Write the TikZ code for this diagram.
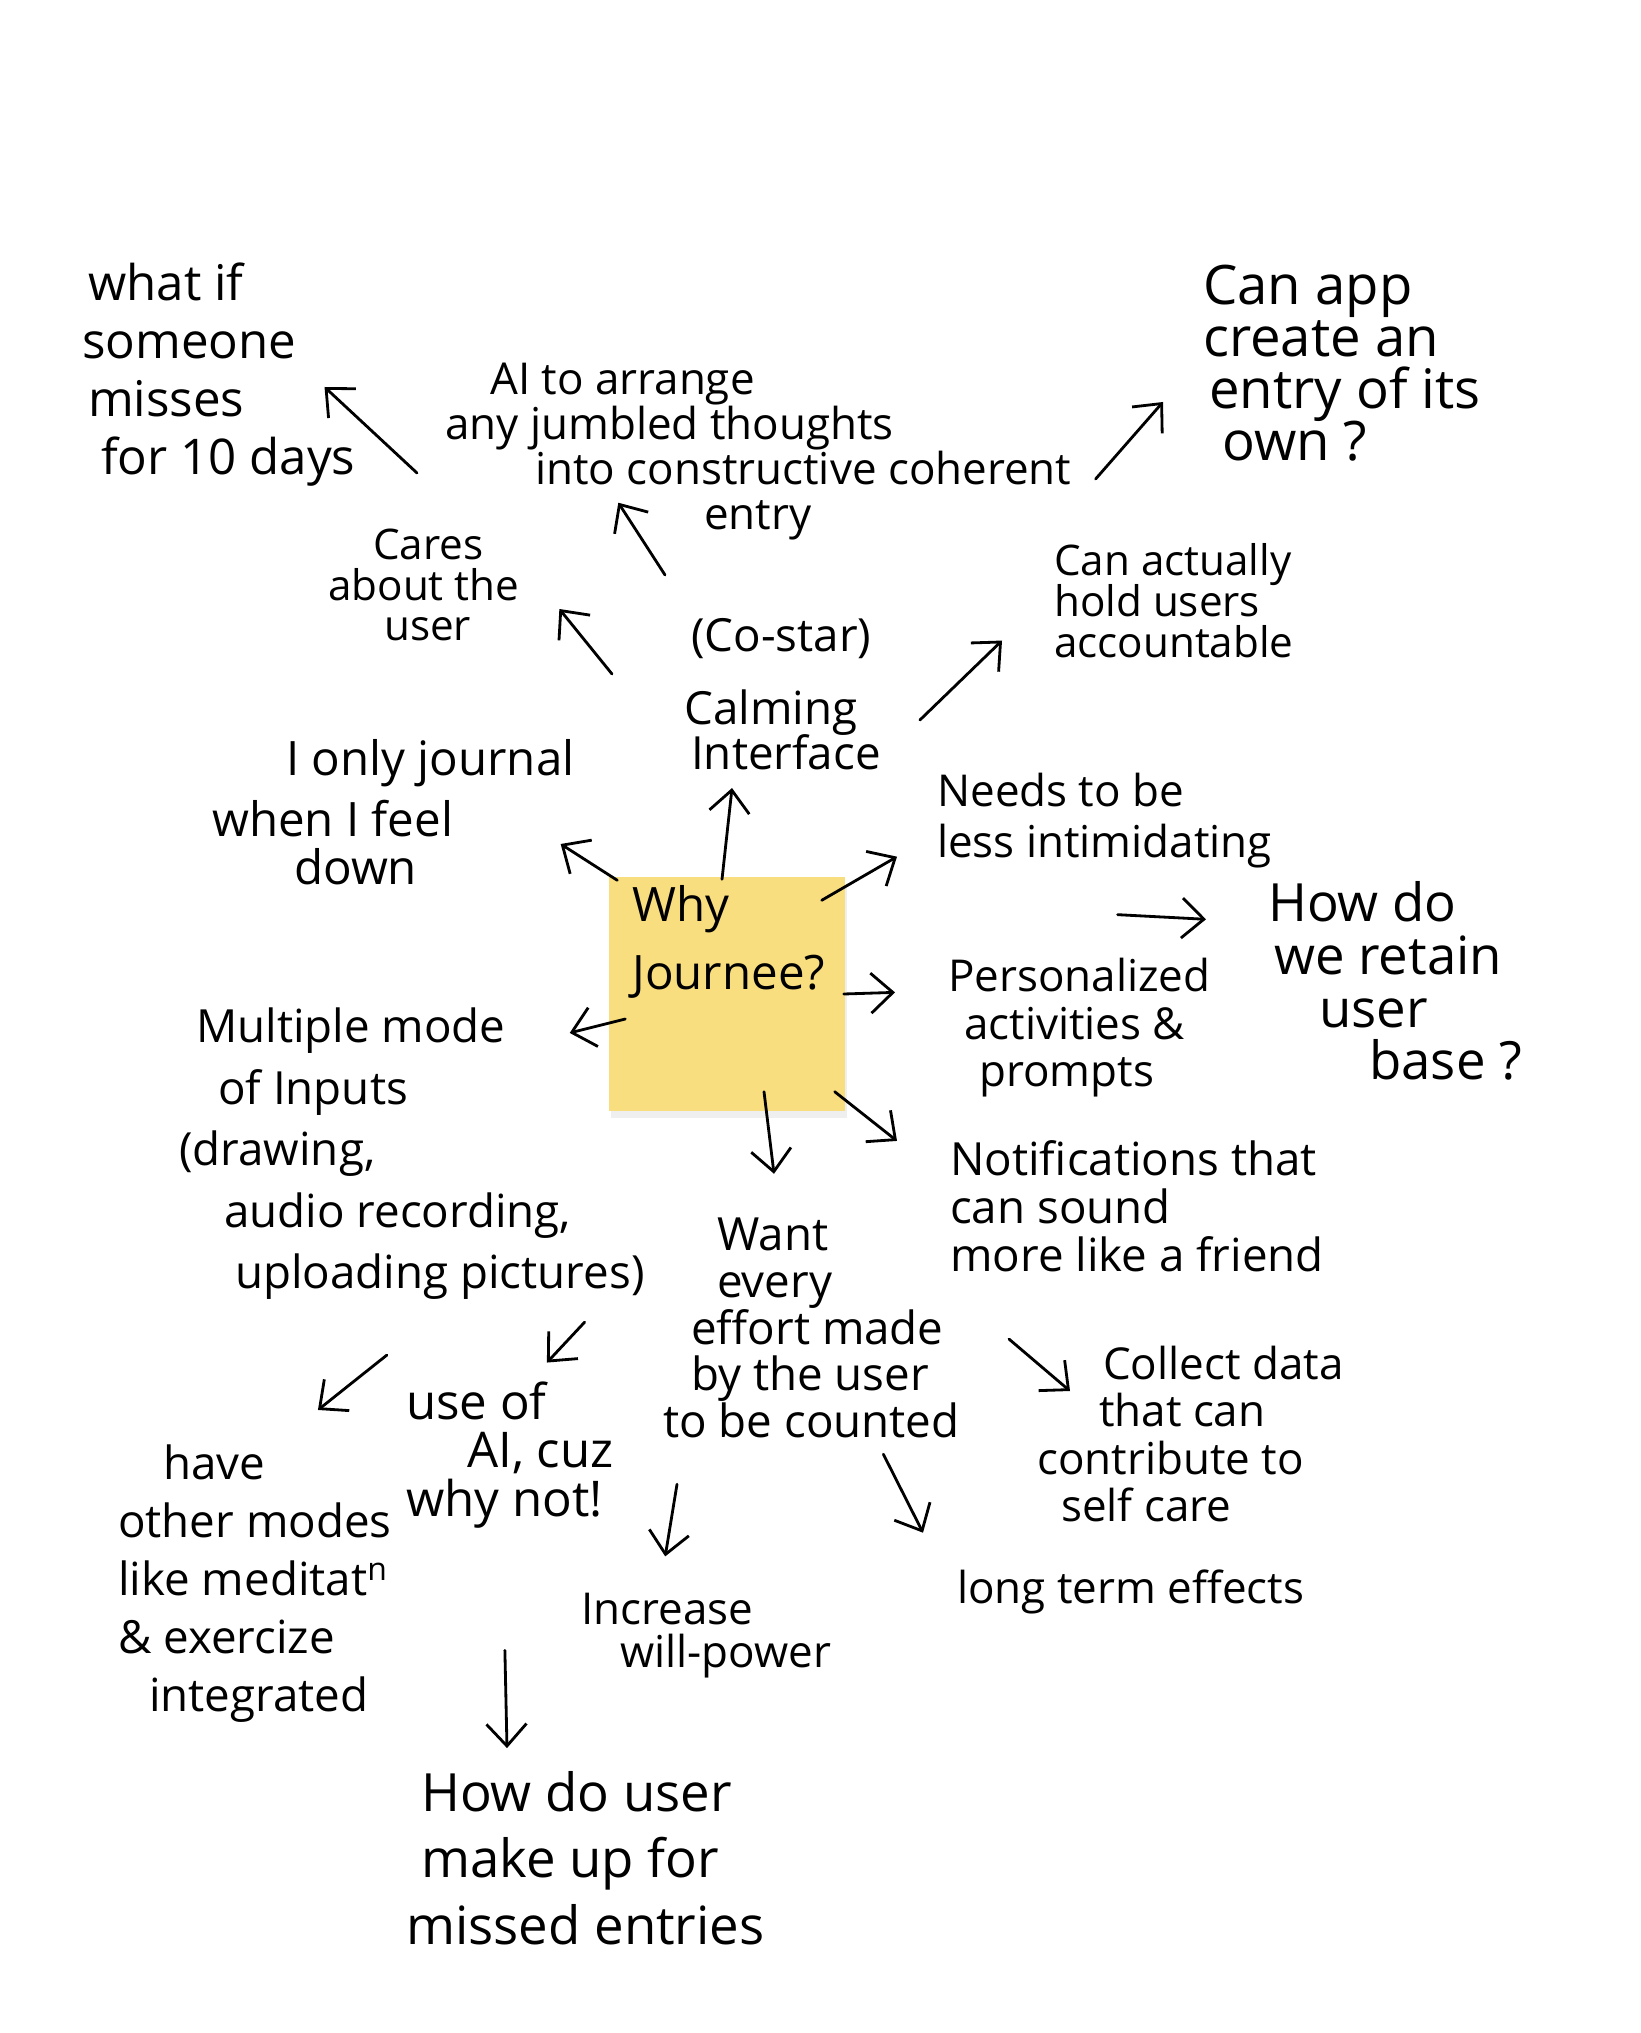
\documentclass[tikz,border=0pt]{standalone}
\usepackage{fontspec}
\setmainfont{Open Sans}
\usetikzlibrary{arrows.meta,shadows}

\definecolor{notey}{RGB}{248,222,126}
\newcommand\indentby[1]{\hspace*{#1cm}}
\setlength{\lineskiplimit}{-30pt}

\tikzset{
  idea/.style n args={2}{align=left,anchor=west,inner sep=1pt,
    font=\fontsize{#1}{#2}\selectfont},
  whytext/.style={idea={13.5}{19.3},anchor=north west,xshift=2mm,yshift=-0.5mm},
  arr/.style={-{Straight Barb[length=2.2mm,width=4mm]},line width=0.8pt,line cap=round},
  sticky/.style={fill=notey,minimum width=2.36cm,minimum height=2.34cm,inner sep=0pt,
    drop shadow={opacity=0.12,shadow xshift=0.2mm,shadow yshift=-0.7mm}}
}

\begin{document}
\begin{tikzpicture}
\fill[white] (0,0) rectangle (16.40,-20.33);
\useasboundingbox (0,0) rectangle (16.40,-20.33);

% centre note
\node[sticky,label={[whytext]north west:Why\\Journee?}] (sticky) at (7.27,-9.94) {};

% ideas around it
\node[idea={14}{16.5}] (whatif) at (0.78,-3.75) {\indentby{0.06}what if\\someone\\\indentby{0.06}misses\\\indentby{0.19}for 10 days};
\node[idea={12.5}{12.8}] (airrange) at (4.41,-4.52) {\indentby{0.45}AI to arrange\\any jumbled thoughts\\\indentby{0.90}into constructive coherent\\\indentby{2.59}entry};
\node[idea={15.5}{14.8}] (canapp) at (11.99,-3.63) {Can app\\create an\\\indentby{0.06}entry of its\\\indentby{0.19}own ?};
\node[idea={12}{11.4}] (cares) at (3.24,-5.85) {\indentby{0.45}Cares\\about the\\\indentby{0.56}user};
\node[idea={13}{12.8}] (calming) at (6.80,-6.94) {\indentby{0.07}(Co-star)\\[8pt]Calming\\\indentby{0.07}Interface};
\node[idea={12}{11.7}] (canact) at (10.50,-6.01) {Can actually\\hold users\\accountable};
\node[idea={13.5}{13.6}] (ionly) at (2.08,-8.12) {\indentby{0.74}I only journal\\[3.8pt]when I feel\\\indentby{0.82}down};
\node[idea={12.5}{14.5}] (needs) at (9.33,-8.21) {Needs to be\\less intimidating};
\node[idea={15}{15}] (howdo) at (12.64,-9.81) {How do\\\indentby{0.06}we retain\\\indentby{0.51}user\\\indentby{1.01}base ?};
\node[idea={12.5}{13.5}] (person) at (9.44,-10.28) {Personalized\\\indentby{0.16}activities \&\\\indentby{0.31}prompts};
\node[idea={13}{17.5}] (multi) at (1.75,-11.54) {\indentby{0.17}Multiple mode\\\indentby{0.39}of Inputs\\(drawing,\\\indentby{0.45}audio recording,\\\indentby{0.56}uploading pictures)};
\node[idea={13}{13.7}] (notif) at (9.46,-12.06) {Notifications that\\can sound\\more like a friend};
\node[idea={13}{13.3}] (want) at (6.59,-13.28) {\indentby{0.54}Want\\\indentby{0.54}every\\\indentby{0.28}effort made\\\indentby{0.28}by the user\\to be counted};
\node[idea={12.5}{13.4}] (collect) at (10.33,-14.34) {\indentby{0.66}Collect data\\\indentby{0.62}that can\\contribute to\\\indentby{0.24}self care};
\node[idea={14}{13.8}] (useai) at (4.02,-14.55) {use of\\\indentby{0.61}AI, cuz\\why not!};
\node[idea={13}{16.5}] (have) at (1.14,-15.84) {\indentby{0.45}have\\other modes\\like meditat\textsuperscript{n}\\\& exercize\\\indentby{0.31}integrated};
\node[idea={12.5}{12.2}] (increase) at (5.77,-16.36) {Increase\\\indentby{0.39}will-power};
\node[idea={12.5}{12}] (longterm) at (9.53,-15.92) {long term effects};
\node[idea={15}{18.9}] (howuser) at (4.02,-18.58) {\indentby{0.15}How do user\\\indentby{0.15}make up for\\missed entries};

% arrows
\draw[arr] ([xshift=-2.4mm,yshift=-2.1mm]airrange.west) -- ([xshift=-3.5mm,yshift=-1.2mm]whatif.east);
\draw[arr] ([xshift=-1.5mm,yshift=3.9mm]calming.north west) -- ([xshift=-14mm,yshift=4.2mm]airrange.south);
\draw[arr] ([xshift=-6.8mm,yshift=2mm]calming.west) -- ([xshift=3.6mm,yshift=-2.4mm]cares.east);
\draw[arr] ([xshift=2mm,yshift=-2.7mm]airrange.east) -- ([xshift=-3.6mm,yshift=-3.9mm]canapp.west);
\draw[arr] ([xshift=3.5mm,yshift=-2.6mm]calming.east) -- ([xshift=-4.8mm,yshift=2.2mm]canact.south west);
\draw[arr] ([xshift=-0.5mm,yshift=-0.3mm]sticky.north) -- ([xshift=5.2mm,yshift=-1.4mm]calming.south west);
\draw[arr] ([xshift=0.9mm,yshift=-0.4mm]sticky.north west) -- ([xshift=-1.8mm,yshift=-3.2mm]ionly.east);
\draw[arr] ([xshift=-2.4mm,yshift=-2.4mm]sticky.north east) -- ([xshift=-3.6mm,yshift=1.6mm]needs.south west);
\draw[arr] ([xshift=1.3mm,yshift=-4.2mm]needs.south) -- ([xshift=-5.8mm,yshift=-4.2mm]howdo.north west);
\draw[arr] ([xshift=-0.2mm]sticky.east) -- ([xshift=-4.9mm,yshift=-3.8mm]person.north west);
\draw[arr] ([xshift=1.7mm,yshift=-2.5mm]sticky.west) -- ([xshift=-7.9mm,yshift=-2.9mm]multi.north east);
\draw[arr] ([xshift=3.7mm,yshift=2mm]sticky.south) -- ([xshift=11.5mm,yshift=4mm]want.north west);
\draw[arr] ([xshift=-1.1mm,yshift=2mm]sticky.south east) -- ([xshift=-4.9mm,yshift=-0.5mm]notif.north west);
\draw[arr] ([xshift=-6.4mm,yshift=-1.8mm]multi.south east) -- ([xshift=3.7mm,yshift=1.5mm]useai.north);
\draw[arr] ([xshift=-2.5mm,yshift=-5.1mm]multi.south) -- ([xshift=6.3mm,yshift=3.1mm]have.north);
\draw[arr] ([xshift=6.3mm,yshift=-6.3mm]notif.south west) -- ([xshift=3.7mm,yshift=4.3mm]collect.west);
\draw[arr] ([xshift=7.2mm,yshift=-1.2mm]want.south) -- ([xshift=-3mm,yshift=3.3mm]longterm.north west);
\draw[arr] ([xshift=1.8mm,yshift=-4.2mm]want.south west) -- ([xshift=-4.1mm,yshift=3.3mm]increase.north);
\draw[arr] ([xshift=-0.5mm,yshift=-11.8mm]useai.south) -- ([xshift=10.5mm,yshift=1.9mm]howuser.north west);
\end{tikzpicture}
\end{document}
